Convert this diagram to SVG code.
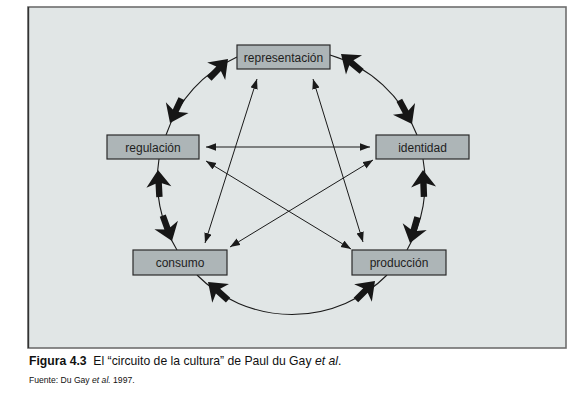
<svg xmlns="http://www.w3.org/2000/svg" width="587" height="407" viewBox="0 0 587 407">
<style>
.box{fill:#adb5b7;stroke:#2a2a2a;stroke-width:1.2}
.lbl{font-family:"Liberation Sans",Arial,sans-serif;font-size:12px;fill:#1e1e1e;text-anchor:middle}
.thin{fill:none;stroke:#1a1a1a;stroke-width:1}
.arc{fill:none;stroke:#1a1a1a;stroke-width:1.1}
.big{fill:#161616}
.cap{font-family:"Liberation Sans",Arial,sans-serif;fill:#111}
</style>
<defs>
<marker id="ah" markerWidth="11" markerHeight="8" refX="10" refY="3.75" orient="auto-start-reverse" markerUnits="userSpaceOnUse">
<path d="M0,0 L10,3.75 L0,7.5 z" fill="#1a1a1a"/>
</marker>
<polygon id="ba" points="0,0 -17,-12.5 -13.5,-3.2 -27,-3.2 -27,3.2 -13.5,3.2 -17,12.5"/>
</defs>
<rect x="28" y="7" width="538" height="341" fill="#e1e6e6" stroke="#6e6e6e" stroke-width="1.6"/>
<line x1="28.5" y1="7" x2="28.5" y2="348" stroke="#333" stroke-width="1.4"/>
<g id="connectors">
<path class="arc" d="M237,57 A134,134 0 0 0 166,135"/>
<path class="arc" d="M330,55 A134,134 0 0 1 417,135"/>
<path class="arc" d="M423,159 A134,134 0 0 1 407,250"/>
<path class="arc" d="M387,275 A134,134 0 0 1 197,275"/>
<path class="arc" d="M177,250 A134,134 0 0 1 159,159"/>
<line class="thin" x1="206" y1="147" x2="370" y2="147" marker-start="url(#ah)" marker-end="url(#ah)"/>
<line class="thin" x1="205" y1="243" x2="257" y2="79" marker-start="url(#ah)" marker-end="url(#ah)"/>
<line class="thin" x1="313" y1="79" x2="363" y2="242" marker-start="url(#ah)" marker-end="url(#ah)"/>
<line class="thin" x1="206" y1="161" x2="351" y2="249" marker-start="url(#ah)" marker-end="url(#ah)"/>
<line class="thin" x1="373" y1="160" x2="230" y2="247" marker-start="url(#ah)" marker-end="url(#ah)"/>
<use href="#ba" class="big" transform="translate(228,59) rotate(-46)"/>
<use href="#ba" class="big" transform="translate(170,123) rotate(115)"/>
<use href="#ba" class="big" transform="translate(341,54) rotate(220)"/>
<use href="#ba" class="big" transform="translate(412,124) rotate(62)"/>
<use href="#ba" class="big" transform="translate(423,170) rotate(-92)"/>
<use href="#ba" class="big" transform="translate(410,243) rotate(106)"/>
<use href="#ba" class="big" transform="translate(208,282) rotate(222)"/>
<use href="#ba" class="big" transform="translate(375,281) rotate(-45)"/>
<use href="#ba" class="big" transform="translate(158,170) rotate(-93)"/>
<use href="#ba" class="big" transform="translate(172,241) rotate(70)"/>
</g>
<g id="representacion"><rect class="box" x="237" y="45" width="93" height="24"/><text class="lbl" x="283.5" y="61.5">representación</text></g>
<g id="regulacion"><rect class="box" x="107" y="135" width="92" height="24"/><text class="lbl" x="153" y="151.5">regulación</text></g>
<g id="identidad"><rect class="box" x="376" y="135" width="93" height="24"/><text class="lbl" x="422.5" y="151.5">identidad</text></g>
<g id="consumo"><rect class="box" x="133" y="250" width="94" height="25"/><text class="lbl" x="180" y="267">consumo</text></g>
<g id="produccion"><rect class="box" x="352" y="250" width="94" height="25"/><text class="lbl" x="399" y="267">producción</text></g>
<text class="cap" x="29" y="365" font-size="12.2"><tspan font-weight="bold">Figura 4.3</tspan>&#160; El “circuito de la cultura” de Paul du Gay <tspan font-style="italic">et al</tspan>.</text>
<text class="cap" x="29" y="383" font-size="8.6">Fuente: Du Gay <tspan font-style="italic">et al.</tspan> 1997.</text>
</svg>
